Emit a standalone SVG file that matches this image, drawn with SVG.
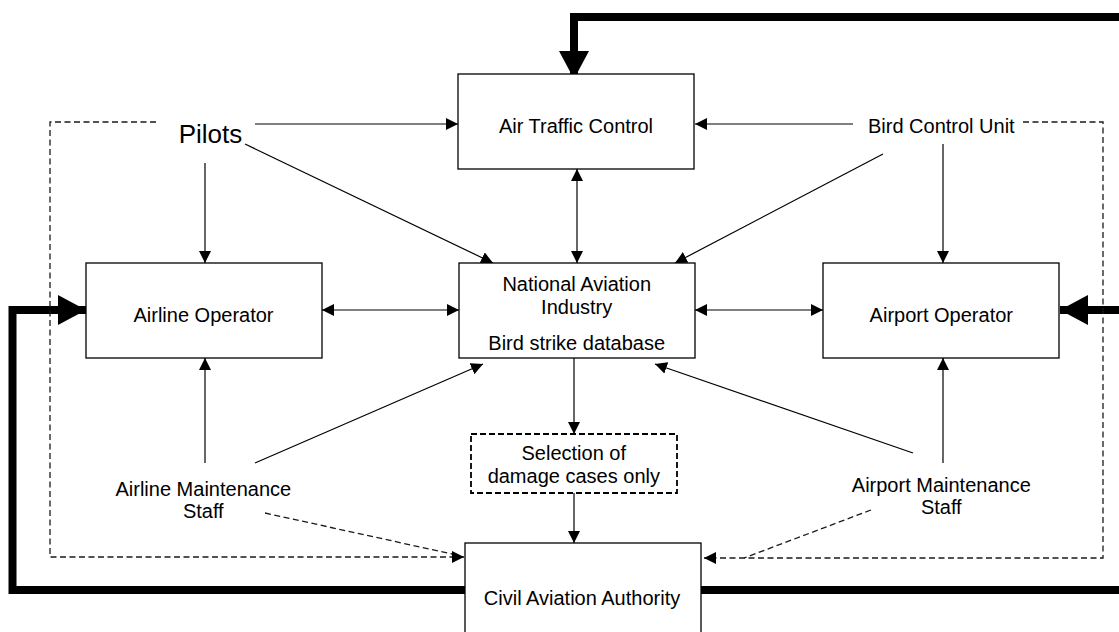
<svg xmlns="http://www.w3.org/2000/svg" width="1119" height="632" viewBox="0 0 1119 632">
<style>
.box{fill:#fff;stroke:#000;stroke-width:1.3}
.sel{fill:#fff;stroke:#000;stroke-width:1.8;stroke-dasharray:6,3}
.t{font-family:"Liberation Sans",Arial,sans-serif;font-size:20px;fill:#000;text-anchor:middle}
.big{font-size:26px}
.ln{fill:none;stroke:#000;stroke-width:1.2}
.dash{fill:none;stroke:#1a1a1a;stroke-width:1.3;stroke-dasharray:6,3.5}
.thick{fill:none;stroke:#000;stroke-width:8;stroke-linejoin:miter}
</style>
<defs>
<marker id="a" markerUnits="userSpaceOnUse" markerWidth="12" markerHeight="12" refX="12" refY="6" orient="auto-start-reverse">
<path d="M0,0 L12,6 L0,12 z" fill="#000"/>
</marker>
<marker id="T" markerUnits="userSpaceOnUse" markerWidth="30" markerHeight="30" refX="28" refY="15" orient="auto">
<path d="M0,0 L28,15 L0,30 z" fill="#000"/>
</marker>
</defs>
<g id="connectors">
<path class="thick" d="M1130,17 L574,17 L574,79" marker-end="url(#T)"/>
<path class="thick" d="M1130,310 L1060,310" marker-end="url(#T)"/>
<path class="thick" d="M465,590 L12.5,590 L12.5,310 L86,310" marker-end="url(#T)"/>
<path class="thick" d="M700,590 L1130,590"/>
<line class="ln" x1="255" y1="124" x2="458" y2="124" marker-end="url(#a)"/>
<line class="ln" x1="205" y1="163" x2="205" y2="263" marker-end="url(#a)"/>
<line class="ln" x1="245" y1="144" x2="493" y2="263" marker-end="url(#a)"/>
<line class="ln" x1="853" y1="124" x2="695" y2="124" marker-end="url(#a)"/>
<line class="ln" x1="883" y1="154" x2="675" y2="263" marker-end="url(#a)"/>
<line class="ln" x1="943" y1="144" x2="943" y2="263" marker-end="url(#a)"/>
<line class="ln" x1="577" y1="169" x2="577" y2="263" marker-start="url(#a)" marker-end="url(#a)"/>
<line class="ln" x1="322" y1="310" x2="459" y2="310" marker-start="url(#a)" marker-end="url(#a)"/>
<line class="ln" x1="695" y1="310" x2="823" y2="310" marker-start="url(#a)" marker-end="url(#a)"/>
<line class="ln" x1="205" y1="463" x2="205" y2="358" marker-end="url(#a)"/>
<line class="ln" x1="255" y1="463" x2="483" y2="364" marker-end="url(#a)"/>
<line class="ln" x1="943" y1="463" x2="943" y2="358" marker-end="url(#a)"/>
<line class="ln" x1="913" y1="453" x2="655" y2="364" marker-end="url(#a)"/>
<line class="ln" x1="574" y1="358" x2="574" y2="434" marker-end="url(#a)"/>
<line class="ln" x1="574" y1="493" x2="574" y2="543" marker-end="url(#a)"/>
<path class="dash" d="M156,122 L50,122 L50,557 L464,557" marker-end="url(#a)"/>
<path class="dash" d="M265,513 L452,554"/>
<path class="dash" d="M1023,122 L1103,122 L1103,558 L704,558" marker-end="url(#a)"/>
<path class="dash" d="M871,510 L744,558"/>
</g>
<g id="atc">
<rect class="box" x="458" y="74" width="236" height="95"/>
<text class="t" x="576" y="133">Air Traffic Control</text>
</g>
<g id="pilots">
<text class="t big" x="210.5" y="143">Pilots</text>
</g>
<g id="bcu">
<text class="t" x="941.3" y="133">Bird Control Unit</text>
</g>
<g id="airline-operator">
<rect class="box" x="86" y="263" width="236" height="95"/>
<text class="t" x="203.5" y="322">Airline Operator</text>
</g>
<g id="nai">
<rect class="box" x="459" y="263" width="236" height="95"/>
<text class="t" x="576.7" y="291">National Aviation</text>
<text class="t" x="576.7" y="314">Industry</text>
<text class="t" x="576.7" y="350">Bird strike database</text>
</g>
<g id="airport-operator">
<rect class="box" x="823" y="263" width="236" height="95"/>
<text class="t" x="941.3" y="322">Airport Operator</text>
</g>
<g id="selection">
<rect class="sel" x="471" y="434" width="206" height="59"/>
<text class="t" x="573.8" y="460">Selection of</text>
<text class="t" x="573.8" y="483">damage cases only</text>
</g>
<g id="airline-maint">
<text class="t" x="203.3" y="496">Airline Maintenance</text>
<text class="t" x="203.3" y="518">Staff</text>
</g>
<g id="airport-maint">
<text class="t" x="941.3" y="492">Airport Maintenance</text>
<text class="t" x="941.3" y="514">Staff</text>
</g>
<g id="caa">
<rect class="box" x="465" y="543" width="236" height="95"/>
<text class="t" x="582" y="605">Civil Aviation Authority</text>
</g>
</svg>
